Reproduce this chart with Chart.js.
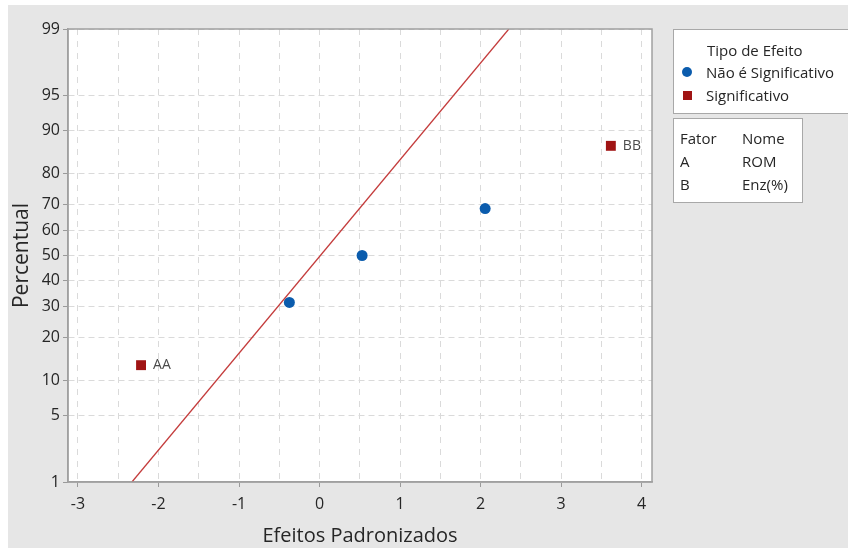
<!DOCTYPE html>
<html>
<head>
<meta charset="utf-8">
<script src="https://cdn.jsdelivr.net/npm/chart.js"></script>
<style>
  html, body { margin: 0; padding: 0; background: #fff; }
  #wrap { position: relative; width: 848px; height: 548px; font-family: "Open Sans", sans-serif; color: #262626; }
  canvas { position: absolute; left: 0; top: 0; }
  .box { position: absolute; background: #fff; border: 1.5px solid #a8a8a8; box-sizing: border-box; }
  .txt { position: absolute; font-size: 15px; line-height: 18px; white-space: nowrap; }
  .sym { position: absolute; }
</style>
</head>
<body>
<div id="wrap">
  <canvas id="effChart" width="848" height="548"></canvas>

  <div class="box" style="left:673px; top:29px; width:190px; height:85px;"></div>
  <div class="txt" style="left:707px; top:41px;">Tipo de Efeito</div>
  <div class="sym" style="left:682px; top:67px; width:10px; height:10px; border-radius:50%; background:#0b5cad;"></div>
  <div class="txt" style="left:706px; top:63px;">Não é Significativo</div>
  <div class="sym" style="left:683px; top:91px; width:9px; height:9px; background:#a01414;"></div>
  <div class="txt" style="left:706px; top:86px;">Significativo</div>

  <div class="box" style="left:673px; top:118px; width:130px; height:85px;"></div>
  <div class="txt" style="left:680px; top:129px;">Fator</div>
  <div class="txt" style="left:742px; top:129px;">Nome</div>
  <div class="txt" style="left:680px; top:152px;">A</div>
  <div class="txt" style="left:742px; top:152px;">ROM</div>
  <div class="txt" style="left:680px; top:175px;">B</div>
  <div class="txt" style="left:742px; top:175px;">Enz(%)</div>
</div>

<script>
// standardized effects (x) and their normal-plot percentiles (y)
const notSigX = [-0.375, 0.528, 2.056];
const notSigY = [31.5, 50, 68.5];
const sigX = [-2.217, 3.617];
const sigY = [13, 87];
const sigLabels = ['AA', 'BB'];

// reference line end points
const refX = [-2.33, 2.35];
const refY = [1, 99];

// percent ticks on the probability axis
const yTicks = [1, 5, 10, 20, 30, 40, 50, 60, 70, 80, 90, 95, 99];

// inverse normal cdf (Acklam)
function probit(p) {
    const a = [-39.69683028665376, 220.9460984245205, -275.9285104469687, 138.3577518672690, -30.66479806614716, 2.506628277459239];
    const b = [-54.47609879822406, 161.5858368580409, -155.6989798598866, 66.80131188771972, -13.28068155288572];
    const c = [-0.007784894002430293, -0.3223964580411365, -2.400758277161838, -2.549732539343734, 4.374664141464968, 2.938163982698783];
    const d = [0.007784695709041462, 0.3224671290700398, 2.445134137142996, 3.754408661907416];
    const pl = 0.02425;
    let q, r;
    if (p < pl) {
        q = Math.sqrt(-2 * Math.log(p));
        return (((((c[0]*q+c[1])*q+c[2])*q+c[3])*q+c[4])*q+c[5]) / ((((d[0]*q+d[1])*q+d[2])*q+d[3])*q+1);
    }
    if (p > 1 - pl) {
        q = Math.sqrt(-2 * Math.log(1 - p));
        return -(((((c[0]*q+c[1])*q+c[2])*q+c[3])*q+c[4])*q+c[5]) / ((((d[0]*q+d[1])*q+d[2])*q+d[3])*q+1);
    }
    q = p - 0.5;
    r = q * q;
    return (((((a[0]*r+a[1])*r+a[2])*r+a[3])*r+a[4])*r+a[5])*q / (((((b[0]*r+b[1])*r+b[2])*r+b[3])*r+b[4])*r+1);
}

// normal probability scale (values in percent)
class ProbabilityScale extends Chart.Scale {
    determineDataLimits() {
        this.min = this.options.min;
        this.max = this.options.max;
    }
    buildTicks() {
        return yTicks.map(v => ({ value: v }));
    }
    getLabelForValue(v) {
        return String(v);
    }
    configure() {
        super.configure();
        this._zStart = probit(this.min / 100);
        this._zRange = probit(this.max / 100) - this._zStart;
    }
    getPixelForValue(v) {
        if (v === null || v === undefined || isNaN(v)) return NaN;
        return this.getPixelForDecimal((probit(v / 100) - this._zStart) / this._zRange);
    }
    getPixelForTick(i) {
        const t = this.ticks;
        if (i < 0 || i > t.length - 1) return NaN;
        return this.getPixelForValue(t[i].value);
    }
    getValueForPixel(px) {
        const z = this._zStart + this.getDecimalForPixel(px) * this._zRange;
        return 100 / (1 + Math.exp(-1.702 * z));
    }
}
ProbabilityScale.id = 'probability';
ProbabilityScale.defaults = {};
Chart.register(ProbabilityScale);

const FONT = '"Open Sans", sans-serif';

// background, plot frame and point labels
const framePlugin = {
    id: 'frame',
    beforeDraw(chart) {
        const { ctx, chartArea: a } = chart;
        ctx.save();
        ctx.fillStyle = '#ffffff';
        ctx.fillRect(0, 0, chart.width, chart.height);
        ctx.fillStyle = '#e6e6e6';
        ctx.fillRect(8, 5, chart.width - 8, chart.height - 5);
        ctx.fillStyle = '#ffffff';
        ctx.fillRect(a.left, a.top, a.right - a.left, a.bottom - a.top);
        ctx.restore();
    },
    afterDatasetsDraw(chart) {
        const { ctx, chartArea: a } = chart;
        ctx.save();
        ctx.strokeStyle = '#a0a0a0';
        ctx.lineWidth = 1.5;
        ctx.strokeRect(a.left, a.top, a.right - a.left, a.bottom - a.top);

        const meta = chart.getDatasetMeta(2);
        ctx.fillStyle = '#4a4a4a';
        ctx.font = '14px ' + FONT;
        ctx.textBaseline = 'middle';
        meta.data.forEach((pt, i) => {
            ctx.fillText(sigLabels[i], pt.x + 12, pt.y);
        });
        ctx.restore();
    }
};

const ctx = document.getElementById('effChart').getContext('2d');
const effChart = new Chart(ctx, {
    type: 'scatter',
    data: {
        datasets: [
            {
                label: 'ref',
                data: refX.map((x, i) => ({ x: x, y: refY[i] })),
                showLine: true,
                borderColor: '#c43c3c',
                borderWidth: 1.3,
                pointRadius: 0
            },
            {
                label: 'Não é Significativo',
                data: notSigX.map((x, i) => ({ x: x, y: notSigY[i] })),
                pointStyle: 'circle',
                pointRadius: 5.5,
                backgroundColor: '#0b5cad',
                borderColor: '#0b5cad',
                borderWidth: 0
            },
            {
                label: 'Significativo',
                data: sigX.map((x, i) => ({ x: x, y: sigY[i] })),
                pointStyle: 'rect',
                pointRadius: 7,
                backgroundColor: '#a01414',
                borderColor: '#a01414',
                borderWidth: 0
            }
        ]
    },
    options: {
        responsive: false,
        animation: false,
        devicePixelRatio: 1,
        events: [],
        layout: { padding: { left: 0, top: 29, right: 196, bottom: 0 } },
        plugins: { legend: { display: false }, tooltip: { enabled: false } },
        scales: {
            x: {
                type: 'linear',
                min: -3.124,
                max: 4.128,
                afterFit: s => { s.height = 66; },
                ticks: {
                    stepSize: 0.5,
                    includeBounds: false,
                    autoSkip: false,
                    maxRotation: 0,
                    padding: 8,
                    color: '#262626',
                    font: { family: FONT, size: 16 },
                    callback: v => Number.isInteger(v) ? String(v) : ''
                },
                grid: {
                    color: '#dadada',
                    lineWidth: 1,
                    tickLength: 5,
                    tickColor: c => (c.tick && Number.isInteger(c.tick.value)) ? '#9a9a9a' : 'rgba(0,0,0,0)'
                },
                border: { color: '#a0a0a0', width: 1.5, dash: [6, 6] },
                title: {
                    display: true,
                    text: 'Efeitos Padronizados',
                    color: '#262626',
                    font: { family: FONT, size: 20 },
                    padding: { top: 0, bottom: 0 }
                }
            },
            y: {
                type: 'probability',
                position: 'left',
                min: 1,
                max: 99,
                afterFit: s => { s.width = 68; },
                ticks: {
                    autoSkip: false,
                    padding: 3,
                    color: '#262626',
                    font: { family: FONT, size: 16 }
                },
                grid: {
                    color: '#dadada',
                    lineWidth: 1,
                    tickLength: 5,
                    tickColor: '#9a9a9a'
                },
                border: { color: '#a0a0a0', width: 1.5, dash: [6, 4] },
                title: {
                    display: true,
                    text: 'Percentual',
                    color: '#262626',
                    font: { family: FONT, size: 21 },
                    padding: { top: 9, bottom: 0 }
                }
            }
        }
    },
    plugins: [framePlugin]
});
</script>
</body>
</html>
